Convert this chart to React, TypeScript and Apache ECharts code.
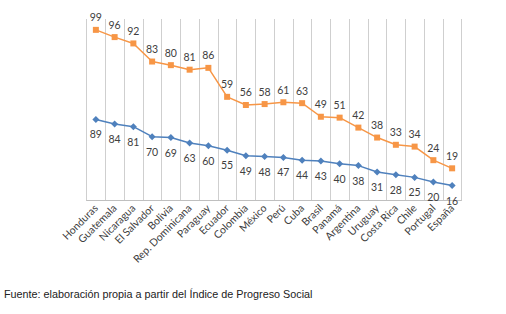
import React, { useEffect, useRef } from "react";
import * as echarts from "echarts";

const categories = [
  "Honduras", "Guatemala", "Nicaragua", "El Salvador", "Bolivia", "Rep. Dominicana",
  "Paraguay", "Ecuador", "Colombia", "México", "Perú", "Cuba", "Brasil", "Panamá",
  "Argentina", "Uruguay", "Costa Rica", "Chile", "Portugal", "España",
];
// lower line (blue), plotted first
const blueValues = [89, 84, 81, 70, 69, 63, 60, 55, 49, 48, 47, 44, 43, 40, 38, 31, 28, 25, 20, 16];
// upper line (orange), stacked on top of the blue one
const orangeValues = [99, 96, 92, 83, 80, 81, 86, 59, 56, 58, 61, 63, 49, 51, 42, 38, 33, 34, 24, 19];
const sourceNote = "Fuente: elaboración propia a partir del Índice de Progreso Social";

export default function App() {
  const ref = useRef<HTMLDivElement>(null);
  useEffect(() => {
    if (!ref.current) return;
    const chart = echarts.init(ref.current, null, { renderer: "svg" });
    const labelFont = { fontFamily: "Lato, 'Open Sans', sans-serif", fontSize: 10.5, color: "#404040" };
    chart.setOption({
      animation: false,
      backgroundColor: "#ffffff",
      title: {
        text: sourceNote,
        left: 4,
        top: 288,
        padding: 0,
        textStyle: { fontFamily: "'Liberation Sans', Arial, sans-serif", fontSize: 10.8, fontWeight: "normal", color: "#222222" },
      },
      grid: { left: 86.5, right: 44.5, top: 19, bottom: 114, containLabel: false },
      xAxis: {
        type: "category",
        data: categories,
        boundaryGap: true,
        axisLine: { show: true, lineStyle: { color: "#bfbfbf", width: 1 } },
        axisTick: { show: false },
        splitLine: { show: true, interval: 0, lineStyle: { color: "#cfcfcf", width: 1 } },
        axisLabel: {
          interval: 0,
          rotate: 45,
          margin: 6,
          fontFamily: "Lato, 'Open Sans', sans-serif",
          fontSize: 10.5,
          color: "#404040",
        },
      },
      yAxis: {
        type: "value",
        min: 0,
        max: 200,
        show: false,
        splitLine: { show: false },
      },
      series: [
        {
          type: "line",
          stack: "total",
          data: blueValues,
          symbol: "diamond",
          symbolSize: 7,
          lineStyle: { color: "#4F81BD", width: 1.5 },
          itemStyle: { color: "#4F81BD" },
          label: { show: true, position: "bottom", distance: 6, ...labelFont },
        },
        {
          type: "line",
          stack: "total",
          data: orangeValues,
          symbol: "rect",
          symbolSize: 6,
          lineStyle: { color: "#F79646", width: 1.5 },
          itemStyle: { color: "#F79646" },
          label: { show: true, position: "top", distance: 4, ...labelFont },
        },
      ],
    });
    return () => chart.dispose();
  }, []);
  return <div ref={ref} style={{ position: "fixed", left: 0, top: 0, width: 506, height: 314 }} />;
}
